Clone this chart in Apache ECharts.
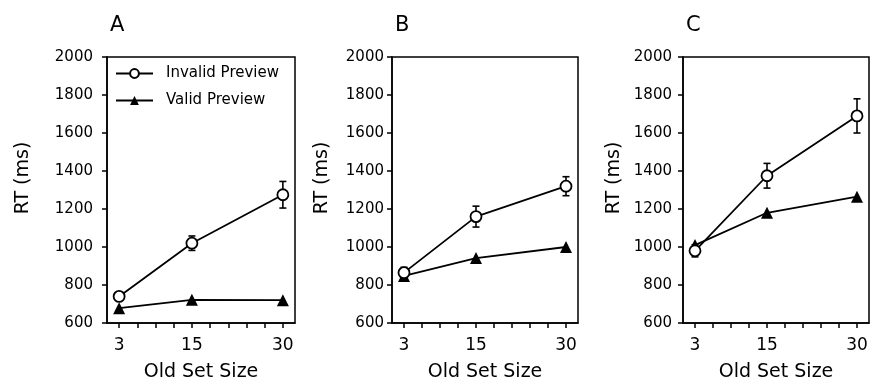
<!DOCTYPE html>
<html>
<head>
<meta charset="utf-8">
<script src="https://cdn.jsdelivr.net/npm/echarts@6/dist/echarts.min.js"></script>
<style>
  html, body { margin: 0; padding: 0; background: #fff; }
  #chart { width: 875px; height: 383px; }
</style>
</head>
<body>
<div id="chart"></div>
<script>
// old set sizes and axis ticks
const setSizes = [3, 15, 30]
const xTicks = [3, 6, 9, 12, 15, 18, 21, 24, 27, 30]
const xLabels = [3, 15, 30]
const panelNames = ['A', 'B', 'C']

// RT (ms) per panel
const invalidA = [740, 1020, 1275]
const invalidErrA = [20, 38, 70]
const validA = [678, 722, 720]

const invalidB = [865, 1160, 1320]
const invalidErrB = [28, 55, 50]
const validB = [848, 942, 1000]

const invalidC = [980, 1375, 1690]
const invalidErrC = [32, 65, 90]
const validC = [1010, 1180, 1265]

const FONT = 'DejaVu Sans'

const panels = [
  { left: 107, width: 188, inv: invalidA, err: invalidErrA, val: validA, labelMargin: 14, nameGap: 74 },
  { left: 392, width: 186, inv: invalidB, err: invalidErrB, val: validB, labelMargin: 8, nameGap: 60 },
  { left: 683, width: 186, inv: invalidC, err: invalidErrC, val: validC, labelMargin: 11, nameGap: 59 }
]

function renderErrorBar(params, api) {
  const x = api.value(0)
  const top = api.coord([x, api.value(2)])
  const bot = api.coord([x, api.value(1)])
  const w = 3.5
  const st = { stroke: '#000', lineWidth: 1.6 }
  return {
    type: 'group',
    children: [
      { type: 'line', shape: { x1: top[0], y1: top[1], x2: bot[0], y2: bot[1] }, style: st },
      { type: 'line', shape: { x1: top[0] - w, y1: top[1], x2: top[0] + w, y2: top[1] }, style: st },
      { type: 'line', shape: { x1: bot[0] - w, y1: bot[1], x2: bot[0] + w, y2: bot[1] }, style: st }
    ]
  }
}

const grid = [], xAxis = [], yAxis = [], series = [], title = []

panels.forEach((p, i) => {
  grid.push({
    left: p.left, width: p.width, top: 57, height: 266,
    outerBoundsMode: 'none',
    show: true, borderColor: '#000', borderWidth: 1.5, backgroundColor: 'transparent'
  })
  title.push({
    text: panelNames[i],
    left: p.left + 3,
    top: 15,
    padding: 0,
    textStyle: { fontFamily: FONT, fontSize: 21, fontWeight: 'normal', color: '#000' }
  })
  xAxis.push({
    type: 'value', gridIndex: i, min: 1, max: 32,
    name: 'Old Set Size', nameLocation: 'middle', nameGap: 40,
    nameTextStyle: { fontFamily: FONT, fontSize: 19, color: '#000' },
    axisLine: { lineStyle: { color: '#000', width: 1.5 } },
    axisTick: { show: true, length: 5, lineStyle: { color: '#000', width: 1.5 }, customValues: xTicks },
    axisLabel: { customValues: xLabels, margin: 14, fontFamily: FONT, fontSize: 17, color: '#000' },
    splitLine: { show: false }
  })
  yAxis.push({
    type: 'value', gridIndex: i, min: 600, max: 2000, interval: 200,
    name: 'RT (ms)', nameLocation: 'middle', nameGap: p.nameGap,
    nameTextStyle: { fontFamily: FONT, fontSize: 19, color: '#000', padding: [0, 0, 0, 24] },
    axisLine: { show: true, lineStyle: { color: '#000', width: 1.5 } },
    axisTick: { show: true, length: 5, lineStyle: { color: '#000', width: 1.5 } },
    axisLabel: {
      margin: p.labelMargin, fontFamily: FONT, fontSize: 15, color: '#000',
      formatter: v => String(v)
    },
    splitLine: { show: false }
  })
  series.push({
    type: 'custom', xAxisIndex: i, yAxisIndex: i, z: 1,
    renderItem: renderErrorBar,
    data: setSizes.map((s, k) => [s, p.inv[k] - p.err[k], p.inv[k] + p.err[k]])
  })
  series.push({
    name: 'Valid Preview', type: 'line', xAxisIndex: i, yAxisIndex: i, z: 2,
    data: setSizes.map((s, k) => [s, p.val[k]]),
    symbol: 'triangle', symbolSize: 12,
    lineStyle: { color: '#000', width: 1.8 },
    itemStyle: { color: '#000' }
  })
  series.push({
    name: 'Invalid Preview', type: 'line', xAxisIndex: i, yAxisIndex: i, z: 3,
    data: setSizes.map((s, k) => [s, p.inv[k]]),
    symbol: 'circle', symbolSize: 11,
    lineStyle: { color: '#000', width: 1.8 },
    itemStyle: { color: '#fff', borderColor: '#000', borderWidth: 1.8 }
  })
})

const chart = echarts.init(document.getElementById('chart'), null, { renderer: 'canvas' })
chart.setOption({
  animation: false,
  backgroundColor: '#fff',
  title: title,
  legend: {
    data: ['Invalid Preview', 'Valid Preview'],
    orient: 'vertical', left: 115, top: 66, padding: 0,
    itemWidth: 37, itemHeight: 11, itemGap: 12,
    textStyle: { fontFamily: FONT, fontSize: 15, color: '#000', padding: [0, 0, 0, 8] },
    selectedMode: false
  },
  grid: grid,
  xAxis: xAxis,
  yAxis: yAxis,
  series: series
})
</script>
</body>
</html>
